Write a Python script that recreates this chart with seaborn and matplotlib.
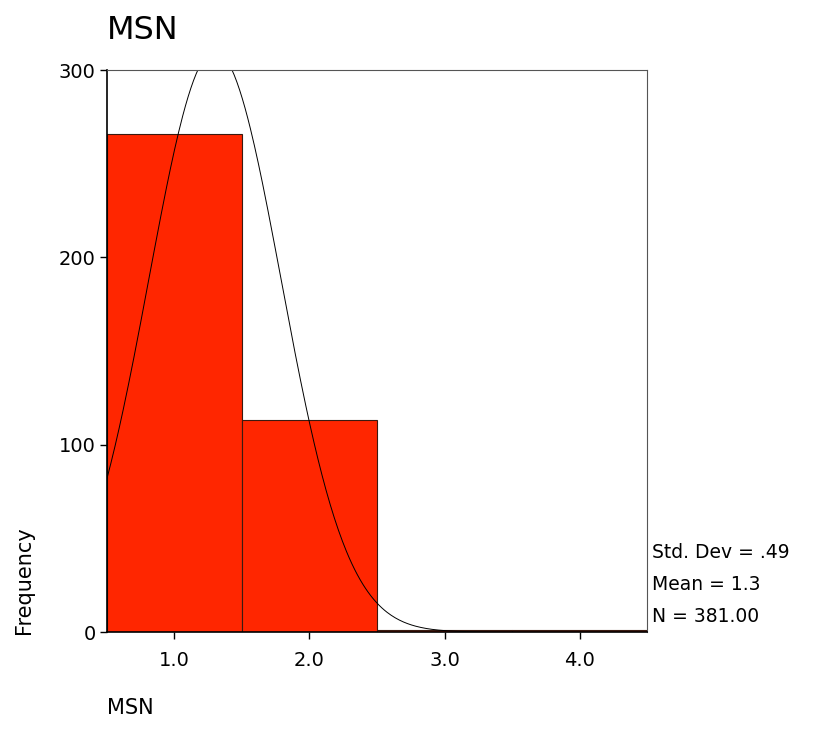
import numpy as np
import pandas as pd
import matplotlib
matplotlib.use('Agg')
import matplotlib.pyplot as plt
import seaborn as sns

# data
categories = [1.0, 2.0, 3.0, 4.0]
counts = [266, 113, 1, 1]
bin_edges = [0.5, 1.5, 2.5, 3.5, 4.5]
std_dev = 0.49
mean = 1.3
n_total = 381
x_ticks = [1.0, 2.0, 3.0, 4.0]
y_ticks = [0, 100, 200, 300]

sns.set_theme(style='white')
plt.rcParams['font.family'] = ['DejaVu Sans']
plt.rcParams['text.color'] = 'black'
plt.rcParams['xtick.color'] = 'black'
plt.rcParams['ytick.color'] = 'black'

fig = plt.figure(figsize=(8.16, 7.31), dpi=100)
ax = fig.add_axes([0.131, 0.1354, 0.662, 0.7688])

df = pd.DataFrame({'MSN': categories, 'count': counts})
sns.histplot(data=df, x='MSN', weights='count', bins=bin_edges, color='#FF2600',
             alpha=1, edgecolor='#3a1a10', linewidth=0.8, ax=ax)

# fitted normal curve
xs = np.linspace(0.5, 4.5, 400)
bw = 1.0
ys = n_total * bw / (std_dev * np.sqrt(2 * np.pi)) * np.exp(-0.5 * ((xs - mean) / std_dev) ** 2)
ax.plot(xs, ys, color='black', linewidth=0.7)

ax.set_xlim(0.5, 4.5)
ax.set_ylim(0, 300)
ax.set_xticks(x_ticks)
ax.set_xticklabels([f'{t:.1f}' for t in x_ticks], fontsize=14)
ax.set_yticks(y_ticks)
ax.set_yticklabels([str(t) for t in y_ticks], fontsize=14)
ax.tick_params(axis='both', direction='out', length=5, width=1, color='black',
               bottom=True, left=True, pad=3)
ax.tick_params(axis='x', pad=9)

for side in ['left', 'bottom']:
    ax.spines[side].set_color('black')
    ax.spines[side].set_linewidth(1.2)
for side in ['top', 'right']:
    ax.spines[side].set_color('#555555')
    ax.spines[side].set_linewidth(0.8)

ax.set_xlabel('')
ax.set_ylabel('')
fig.text(0.131, 0.958, 'MSN', fontsize=23, ha='left', va='center')
fig.text(0.131, 0.018, 'MSN', fontsize=15, ha='left', va='bottom')
fig.text(0.029, 0.207, 'Frequency', fontsize=15, rotation=90, ha='center', va='center')

stats = [f'Std. Dev = {std_dev:.2f}'.replace('0.', '.'), f'Mean = {mean:.1f}', f'N = {n_total:.2f}']
for i, s in enumerate(stats):
    fig.text(0.799, 1 - (553 + 32 * i) / 731, s, fontsize=13.5, ha='left', va='center')

fig.savefig('out.png', dpi=100)
